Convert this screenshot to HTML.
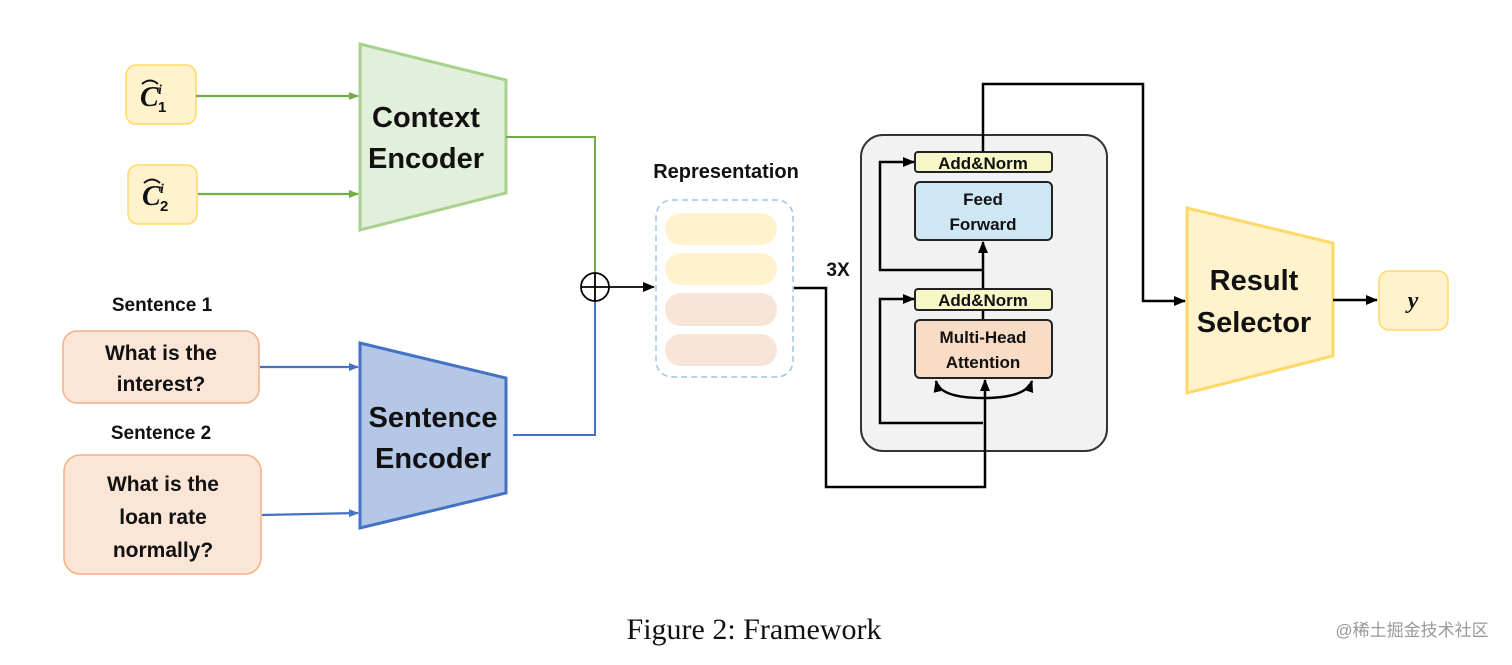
<!DOCTYPE html>
<html><head><meta charset="utf-8"><style>
body{margin:0;background:#fff;}
svg text{font-family:"Liberation Sans","Noto Sans CJK SC",sans-serif;font-weight:bold;fill:#111;}
</style></head><body>
<svg width="1512" height="660" viewBox="0 0 1512 660" xmlns="http://www.w3.org/2000/svg">
<defs>
<marker id="ag" markerWidth="10" markerHeight="10" refX="9" refY="5" orient="auto" markerUnits="userSpaceOnUse"><path d="M0,1 L10,5 L0,9z" fill="#70ad47"/></marker>
<marker id="ab" markerWidth="10" markerHeight="10" refX="9" refY="5" orient="auto" markerUnits="userSpaceOnUse"><path d="M0,1 L10,5 L0,9z" fill="#4472c4"/></marker>
<marker id="ak" markerWidth="12" markerHeight="12" refX="11" refY="6" orient="auto-start-reverse" markerUnits="userSpaceOnUse"><path d="M0,1 L12,6 L0,11z" fill="#000"/></marker>
</defs>
<rect x="126" y="65" width="70" height="59" rx="10" fill="#fff2cc" stroke="#ffd966" stroke-width="1.5"/>
<rect x="128" y="165" width="69" height="59" rx="10" fill="#fff2cc" stroke="#ffd966" stroke-width="1.5"/>
<text x="140" y="106" font-size="28" font-style="italic" style="font-family:'Liberation Serif',serif">C</text>
<text x="158" y="94" font-size="14" font-style="italic" style="font-family:'Liberation Serif',serif">i</text>
<text x="158" y="112" font-size="15">1</text>
<text x="142" y="205" font-size="28" font-style="italic" style="font-family:'Liberation Serif',serif">C</text>
<text x="160" y="193" font-size="14" font-style="italic" style="font-family:'Liberation Serif',serif">i</text>
<text x="160" y="211" font-size="15">2</text>
<path d="M142,84 Q150,77 158,84 M144,183 Q152,176 160,183" stroke="#111" stroke-width="2" fill="none"/>
<line x1="196" y1="96" x2="358" y2="96" stroke="#70ad47" stroke-width="2.2" marker-end="url(#ag)"/>
<line x1="198" y1="194" x2="358" y2="194" stroke="#70ad47" stroke-width="2.2" marker-end="url(#ag)"/>
<polygon points="360,44 506,80 506,193 360,230" fill="#e2efda" stroke="#a9d18e" stroke-width="3"/>
<text x="426" y="127" font-size="29" text-anchor="middle">Context</text>
<text x="426" y="168" font-size="29" text-anchor="middle">Encoder</text>
<polyline points="506,137 595,137 595,273" fill="none" stroke="#70ad47" stroke-width="2"/>
<text x="162" y="311" font-size="19" text-anchor="middle">Sentence 1</text>
<text x="161" y="439" font-size="19" text-anchor="middle">Sentence 2</text>
<rect x="63" y="331" width="196" height="72" rx="14" fill="#fbe5d6" stroke="#f4b183" stroke-width="1.5"/>
<rect x="64" y="455" width="197" height="119" rx="16" fill="#fbe5d6" stroke="#f4b183" stroke-width="1.5"/>
<text x="161" y="360" font-size="21" text-anchor="middle">What is the</text>
<text x="161" y="391" font-size="21" text-anchor="middle">interest?</text>
<text x="163" y="491" font-size="21" text-anchor="middle">What is the</text>
<text x="163" y="524" font-size="21" text-anchor="middle">loan rate</text>
<text x="163" y="557" font-size="21" text-anchor="middle">normally?</text>
<line x1="260" y1="367" x2="358" y2="367" stroke="#4472c4" stroke-width="2.2" marker-end="url(#ab)"/>
<line x1="262" y1="515" x2="358" y2="513" stroke="#4472c4" stroke-width="2.2" marker-end="url(#ab)"/>
<polygon points="360,343 506,378 506,493 360,528" fill="#b4c7e7" stroke="#4472c4" stroke-width="3"/>
<text x="433" y="427" font-size="29" text-anchor="middle">Sentence</text>
<text x="433" y="468" font-size="29" text-anchor="middle">Encoder</text>
<polyline points="513,435 595,435 595,301" fill="none" stroke="#4472c4" stroke-width="2"/>
<circle cx="595" cy="287" r="14" fill="none" stroke="#000" stroke-width="1.8"/>
<line x1="581" y1="287" x2="609" y2="287" stroke="#000" stroke-width="1.8"/>
<line x1="595" y1="273" x2="595" y2="301" stroke="#000" stroke-width="1.8"/>
<line x1="609" y1="287" x2="654" y2="287" stroke="#000" stroke-width="1.8" marker-end="url(#ak)"/>
<text x="726" y="178" font-size="20" text-anchor="middle">Representation</text>
<rect x="656" y="200" width="137" height="177" rx="16" fill="none" stroke="#9dc3e6" stroke-width="1.5" stroke-dasharray="6,4"/>
<rect x="665" y="213" width="112" height="32" rx="16" fill="#fff2cc"/>
<rect x="665" y="253" width="112" height="32" rx="16" fill="#fff2cc"/>
<rect x="665" y="293" width="112" height="33" rx="16" fill="#f8e5d8"/>
<rect x="665" y="334" width="112" height="32" rx="16" fill="#f8e5d8"/>
<text x="838" y="276" font-size="19" text-anchor="middle">3X</text>
<rect x="861" y="135" width="246" height="316" rx="22" fill="#f2f2f2" stroke="#333" stroke-width="2"/>
<polyline points="794,288 826,288 826,487 985,487 985,380" fill="none" stroke="#000" stroke-width="2.5" marker-end="url(#ak)"/>
<polyline points="983,423 880,423 880,299 914,299" fill="none" stroke="#000" stroke-width="2.5" marker-end="url(#ak)"/>
<polyline points="983,270 880,270 880,162 914,162" fill="none" stroke="#000" stroke-width="2.5" marker-end="url(#ak)"/>
<line x1="983" y1="289" x2="983" y2="242" stroke="#000" stroke-width="2.5" marker-end="url(#ak)"/>
<line x1="983" y1="320" x2="983" y2="310" stroke="#000" stroke-width="2.5"/>
<path d="M936,381 Q940,398 983,398 Q1026,398 1032,381" fill="none" stroke="#000" stroke-width="2.5" marker-start="url(#ak)" marker-end="url(#ak)"/>
<rect x="915" y="152" width="137" height="20" rx="3" fill="#f6f9c7" stroke="#222" stroke-width="2"/>
<text x="983" y="169" font-size="17" text-anchor="middle">Add&amp;Norm</text>
<rect x="915" y="182" width="137" height="58" rx="5" fill="#cfe7f5" stroke="#222" stroke-width="2"/>
<text x="983" y="205" font-size="17" text-anchor="middle">Feed</text>
<text x="983" y="230" font-size="17" text-anchor="middle">Forward</text>
<rect x="915" y="289" width="137" height="21" rx="3" fill="#f6f9c7" stroke="#222" stroke-width="2"/>
<text x="983" y="306" font-size="17" text-anchor="middle">Add&amp;Norm</text>
<rect x="915" y="320" width="137" height="58" rx="5" fill="#f8dcc6" stroke="#222" stroke-width="2"/>
<text x="983" y="343" font-size="17" text-anchor="middle">Multi-Head</text>
<text x="983" y="368" font-size="17" text-anchor="middle">Attention</text>
<polyline points="983,152 983,84 1143,84 1143,301 1185,301" fill="none" stroke="#000" stroke-width="2.5" marker-end="url(#ak)"/>
<polygon points="1187,208 1333,243 1333,356 1187,393" fill="#fff2cc" stroke="#ffd966" stroke-width="3"/>
<text x="1254" y="290" font-size="29" text-anchor="middle">Result</text>
<text x="1254" y="332" font-size="29" text-anchor="middle">Selector</text>
<line x1="1333" y1="300" x2="1377" y2="300" stroke="#000" stroke-width="2.5" marker-end="url(#ak)"/>
<rect x="1379" y="271" width="69" height="59" rx="10" fill="#fff2cc" stroke="#ffd966" stroke-width="1.5"/>
<text x="1413" y="308" font-size="24" font-style="italic" text-anchor="middle" style="font-family:'Liberation Serif',serif">y</text>
<text x="754" y="639" font-size="30" text-anchor="middle" style="font-family:'Liberation Serif',serif;font-weight:normal">Figure 2: Framework</text>
<text x="1412" y="636" font-size="17" text-anchor="middle" style="font-weight:normal;fill:#999">@稀土掘金技术社区</text>
</svg>
</body></html>
